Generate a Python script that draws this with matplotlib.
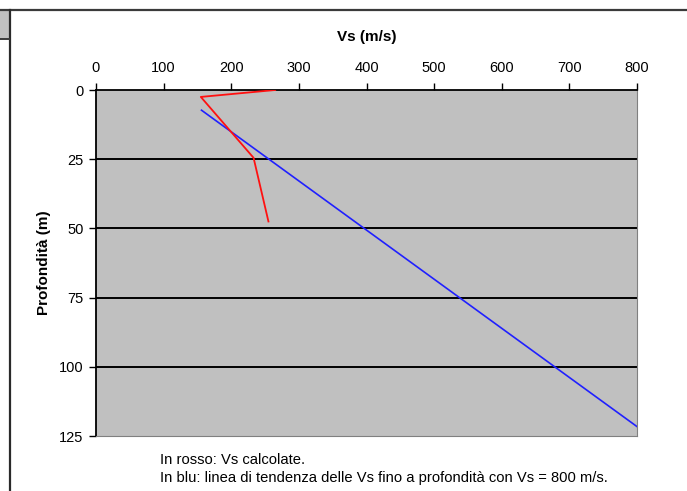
import matplotlib
matplotlib.use("Agg")
import matplotlib.pyplot as plt
from matplotlib.lines import Line2D
from matplotlib.patches import Rectangle

plt.rcParams['font.family'] = ['Liberation Sans', 'DejaVu Sans']

# Calculated shear-wave velocities (red)
vs_calc = [265, 155, 233, 255]
depth_calc = [0, 2.5, 24.5, 47.5]

# Trend line of Vs down to the depth where Vs = 800 m/s (blue)
vs_trend = [156, 800]
depth_trend = [7.3, 121.6]

x_ticks = [0, 100, 200, 300, 400, 500, 600, 700, 800]
y_ticks = [0, 25, 50, 75, 100, 125]

W, H = 687, 491
fig = plt.figure(figsize=(W / 100, H / 100), dpi=100)
ax = fig.add_axes([96 / W, 1 - 436 / H, (637 - 96) / W, (436 - 90) / H])

ax.set_facecolor('#c0c0c0')
ax.set_xlim(0, 800)
ax.set_ylim(125, 0)

for d in y_ticks[1:-1]:
    ax.axhline(d, color='black', lw=1.4, zorder=1)

ax.plot(vs_calc, depth_calc, color='#ff1010', lw=1.3, zorder=3)
ax.plot(vs_trend, depth_trend, color='#2020ff', lw=1.2, zorder=2)

ax.xaxis.set_ticks_position('top')
ax.set_xticks(x_ticks)
ax.set_yticks(y_ticks)
ax.tick_params(axis='both', direction='out', length=5, width=1, colors='black',
               labelsize=10.5)
ax.tick_params(axis='x', pad=6)
ax.tick_params(axis='y', pad=4)

ax.spines['top'].set_color('black')
ax.spines['left'].set_color('black')
ax.spines['top'].set_linewidth(1.3)
ax.spines['left'].set_linewidth(1.3)
ax.spines['right'].set_color('#808080')
ax.spines['bottom'].set_color('#808080')

fig.text(367 / W, 1 - 37 / H, 'Vs (m/s)', fontsize=11, fontweight='bold',
         ha='center', va='center')
fig.text(44 / W, 1 - 263 / H, 'Profondità (m)', fontsize=11, fontweight='bold',
         ha='center', va='center', rotation=90)

fig.text(160 / W, 1 - 460 / H, 'In rosso: Vs calcolate.', fontsize=10.6, va='center', ha='left')
fig.text(160 / W, 1 - 478 / H,
         'In blu: linea di tendenza delle Vs fino a profondità con Vs = 800 m/s.',
         fontsize=10.6, va='center', ha='left')

# page frame lines and small grey tab at top-left
fig.add_artist(Line2D([0, 1], [1 - 10 / H, 1 - 10 / H], transform=fig.transFigure,
                      color='#3a3a3a', lw=1.6))
fig.add_artist(Line2D([9.5 / W, 9.5 / W], [0, 1 - 10 / H], transform=fig.transFigure,
                      color='#2a2a2a', lw=1.6))
fig.add_artist(Rectangle((0, 1 - 39 / H), 8.5 / W, 28 / H, transform=fig.transFigure,
                         facecolor='#c0c0c0', edgecolor='none'))
fig.add_artist(Line2D([0, 9 / W], [1 - 39 / H, 1 - 39 / H], transform=fig.transFigure,
                      color='#3a3a3a', lw=1.4))

fig.savefig('out.png', dpi=100)
